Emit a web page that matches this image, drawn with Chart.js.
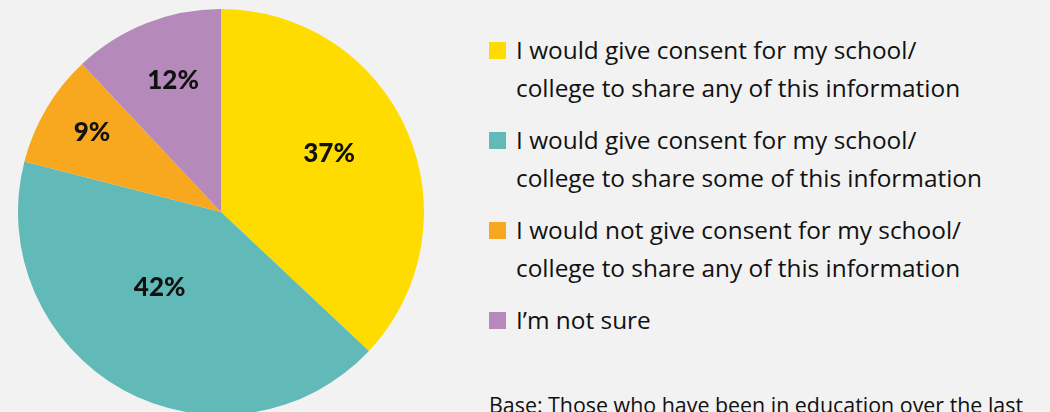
<!DOCTYPE html>
<html>
<head>
    <meta charset="utf-8" />
    <script src="https://cdn.jsdelivr.net/npm/chart.js@4"></script>
    <style>
        html, body {
            margin: 0;
            padding: 0;
            width: 1050px;
            height: 412px;
            overflow: hidden;
            background: #f2f2f2;
            font-family: "Open Sans", "Noto Sans", sans-serif;
        }
        .pie-wrap {
            position: absolute;
            left: 18px;
            top: 9px;
            width: 406px;
            height: 406px;
        }
        #legend {
            position: absolute;
            left: 489px;
            top: 31px;
            margin: 0;
            padding: 0;
            list-style: none;
            color: #111;
            font-size: 24.4px;
            line-height: 38px;
        }
        #legend li {
            position: relative;
            padding-left: 27px;
            margin-bottom: 14px;
        }
        #legend .box {
            position: absolute;
            left: 0;
            top: 11px;
            width: 17px;
            height: 17px;
        }
        .base {
            position: absolute;
            left: 489px;
            top: 390px;
            font-size: 21.4px;
            color: #111;
            white-space: nowrap;
        }
    </style>
</head>
<body>
    <div class="pie-wrap"><canvas id="consentChart"></canvas></div>
    <ul id="legend"></ul>
    <div class="base">Base: Those who have been in education over the last</div>

    <script>
        const categories = [
            'I would give consent for my school/\ncollege to share any of this information',
            'I would give consent for my school/\ncollege to share some of this information',
            'I would not give consent for my school/\ncollege to share any of this information',
            'I\u2019m not sure'
        ];
        const shares = [37, 42, 9, 12];
        const colours = ['#ffdc00', '#62bab8', '#f7a81f', '#b589ba'];

        // where each percentage sits: fraction of radius, and a small turn (degrees) off the slice middle
        const labelReach = [0.604, 0.48, 0.745, 0.69];
        const labelTurn = [-4.8, 10.2, 0.9, 1.6];

        const sliceLabels = {
            id: 'sliceLabels',
            afterDatasetsDraw(chart) {
                const ctx = chart.ctx;
                const meta = chart.getDatasetMeta(0);
                ctx.save();
                ctx.font = '900 26px Lato, sans-serif';
                ctx.fillStyle = '#111';
                ctx.textAlign = 'center';
                ctx.textBaseline = 'middle';
                meta.data.forEach((arc, i) => {
                    const p = arc.getProps(['x', 'y', 'startAngle', 'endAngle', 'outerRadius'], true);
                    const mid = (p.startAngle + p.endAngle) / 2 + labelTurn[i] * Math.PI / 180;
                    const r = p.outerRadius * labelReach[i];
                    ctx.fillText(shares[i] + '%', p.x + Math.cos(mid) * r, p.y + Math.sin(mid) * r);
                });
                ctx.restore();
            }
        };

        new Chart(document.getElementById('consentChart'), {
            type: 'pie',
            data: {
                labels: categories,
                datasets: [{
                    data: shares,
                    backgroundColor: colours,
                    borderWidth: 0
                }]
            },
            options: {
                responsive: true,
                maintainAspectRatio: false,
                animation: false,
                plugins: {
                    legend: { display: false },
                    tooltip: { enabled: false }
                }
            },
            plugins: [sliceLabels]
        });

        // legend on the right, built from the same arrays
        const legend = document.getElementById('legend');
        categories.forEach((label, i) => {
            const li = document.createElement('li');
            const box = document.createElement('span');
            box.className = 'box';
            box.style.background = colours[i];
            li.appendChild(box);
            label.split('\n').forEach((line, j) => {
                if (j > 0) li.appendChild(document.createElement('br'));
                li.appendChild(document.createTextNode(line));
            });
            legend.appendChild(li);
        });
    </script>
</body>
</html>
